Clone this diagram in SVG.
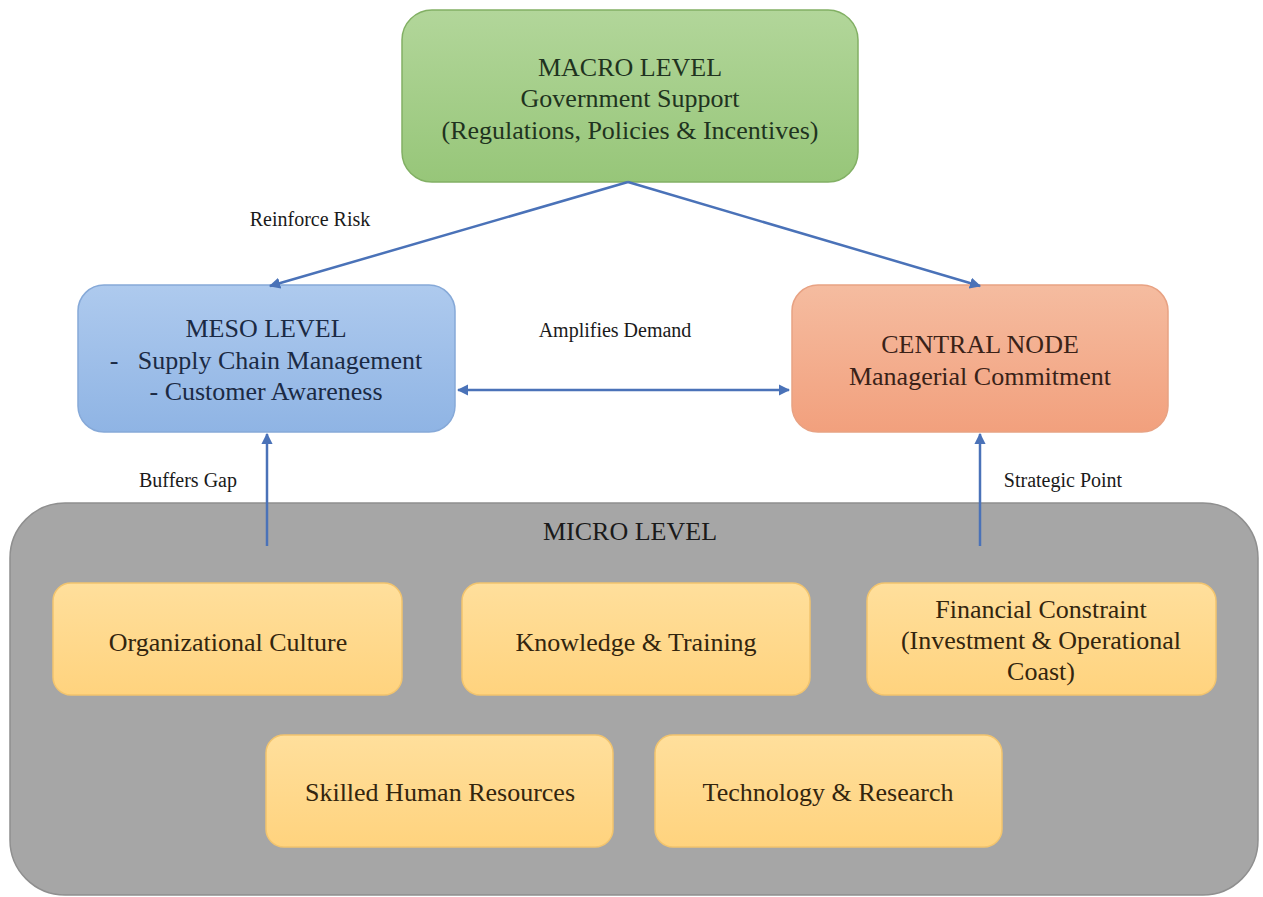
<svg xmlns="http://www.w3.org/2000/svg" width="1263" height="897" viewBox="0 0 1263 897">
<style>
text{font-family:"Liberation Serif","Times New Roman",serif;fill:#1a1a1a;text-anchor:middle}
.t{font-size:26px}
.l{font-size:20px}
#macro text{fill:#1f3320}
#meso text{fill:#1b2a44}
#central text{fill:#3a2218}
.yt{fill:#33250e}
.conn{stroke:#4a72b8;stroke-width:2.5;fill:none}
.y{fill:url(#gy);stroke:#f2c46e;stroke-width:1.5}
</style>
<defs>
<linearGradient id="gg" x1="0" y1="0" x2="0" y2="1"><stop offset="0" stop-color="#b2d69a"/><stop offset="1" stop-color="#97c679"/></linearGradient>
<linearGradient id="gb" x1="0" y1="0" x2="0" y2="1"><stop offset="0" stop-color="#aecaee"/><stop offset="1" stop-color="#8fb4e4"/></linearGradient>
<linearGradient id="go" x1="0" y1="0" x2="0" y2="1"><stop offset="0" stop-color="#f5bca0"/><stop offset="1" stop-color="#f2a07d"/></linearGradient>
<linearGradient id="gy" x1="0" y1="0" x2="0" y2="1"><stop offset="0" stop-color="#ffdf9c"/><stop offset="1" stop-color="#ffd37e"/></linearGradient>
<marker id="ah" viewBox="0 0 10 10" refX="9" refY="5" markerWidth="4.5" markerHeight="4.5" orient="auto-start-reverse"><path d="M0,0 L10,5 L0,10 z" fill="#4a72b8"/></marker>
</defs>
<rect width="1263" height="897" fill="#ffffff"/>
<g id="micro">
<rect x="10" y="503" width="1248" height="392" rx="55" fill="#a6a6a6" stroke="#8f8f8f" stroke-width="1.5"/>
<text class="t" x="630" y="540">MICRO LEVEL</text>
</g>
<g id="macro">
<rect x="402" y="10" width="456" height="172" rx="30" fill="url(#gg)" stroke="#82b064" stroke-width="1.5"/>
<text class="t" x="630" y="76">MACRO LEVEL</text>
<text class="t" x="630" y="107">Government Support</text>
<text class="t" x="630" y="139">(Regulations, Policies &amp; Incentives)</text>
</g>
<g id="meso">
<rect x="78" y="285" width="377" height="147" rx="26" fill="url(#gb)" stroke="#86a9d8" stroke-width="1.5"/>
<text class="t" x="266" y="337">MESO LEVEL</text>
<text class="t" x="266" y="369" xml:space="preserve">-   Supply Chain Management</text>
<text class="t" x="266" y="400">- Customer Awareness</text>
</g>
<g id="central">
<rect x="792" y="285" width="376" height="147" rx="26" fill="url(#go)" stroke="#e8a283" stroke-width="1.5"/>
<text class="t" x="980" y="353">CENTRAL NODE</text>
<text class="t" x="980" y="385">Managerial Commitment</text>
</g>
<g id="org">
<rect class="y" x="53" y="583" width="349" height="112" rx="18"/>
<text class="t yt" x="228" y="651">Organizational Culture</text>
</g>
<g id="knowledge">
<rect class="y" x="462" y="583" width="348" height="112" rx="18"/>
<text class="t yt" x="636" y="651">Knowledge &amp; Training</text>
</g>
<g id="financial">
<rect class="y" x="867" y="583" width="349" height="112" rx="18"/>
<text class="t yt" x="1041" y="618">Financial Constraint</text>
<text class="t yt" x="1041" y="649">(Investment &amp; Operational</text>
<text class="t yt" x="1041" y="680">Coast)</text>
</g>
<g id="skilled">
<rect class="y" x="266" y="735" width="347" height="112" rx="18"/>
<text class="t yt" x="440" y="801">Skilled Human Resources</text>
</g>
<g id="tech">
<rect class="y" x="655" y="735" width="347" height="112" rx="18"/>
<text class="t yt" x="828" y="801">Technology &amp; Research</text>
</g>
<g id="connectors">
<line class="conn" x1="628" y1="182" x2="270" y2="286" marker-end="url(#ah)"/>
<line class="conn" x1="628" y1="182" x2="980" y2="286" marker-end="url(#ah)"/>
<line class="conn" x1="458" y1="390" x2="789" y2="390" marker-start="url(#ah)" marker-end="url(#ah)"/>
<line class="conn" x1="267" y1="546" x2="267" y2="434" marker-end="url(#ah)"/>
<line class="conn" x1="980" y1="546" x2="980" y2="434" marker-end="url(#ah)"/>
<text class="l" x="310" y="226">Reinforce Risk</text>
<text class="l" x="615" y="337">Amplifies Demand</text>
<text class="l" x="188" y="487">Buffers Gap</text>
<text class="l" x="1063" y="487">Strategic Point</text>
</g>
</svg>
